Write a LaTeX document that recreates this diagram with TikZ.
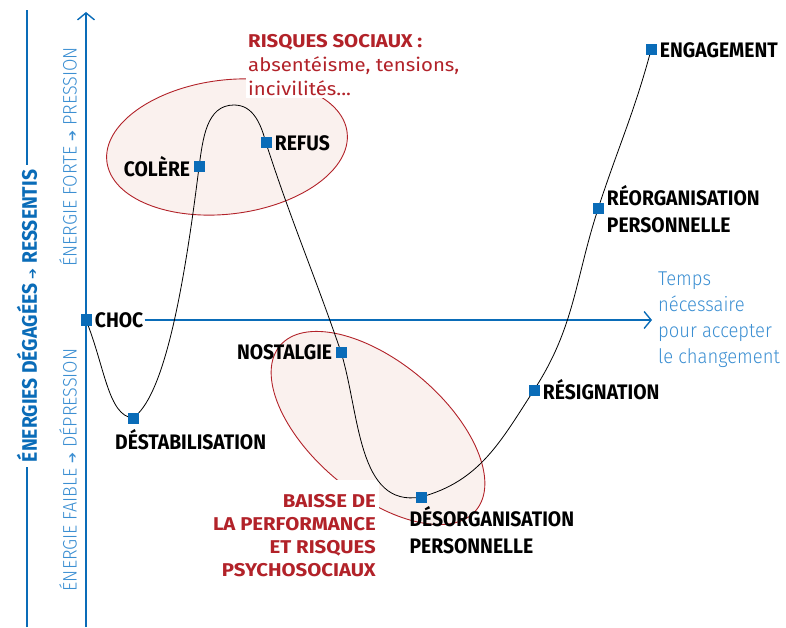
\documentclass[tikz,border=0pt]{standalone}
\usepackage{fontspec}
\usepackage{xcolor}
\usetikzlibrary{positioning,shapes.geometric,arrows.meta}
\setmainfont{Fira Sans}[FakeStretch=0.92]
\newfontfamily\lightfont{Fira Sans Light}[FakeStretch=0.92]
\newfontfamily\riskfont{Fira Sans}[FakeStretch=1.1]
\newfontfamily\arrowfont{DejaVu Sans}
\definecolor{chartblue}{HTML}{0A6CB8}
\definecolor{lightblue}{HTML}{3C8FD2}
\definecolor{riskred}{HTML}{B22229}
\definecolor{riskfill}{HTML}{FAF1EE}
\newcommand{\uparrowsym}{{\arrowfont\fontsize{13}{13}\selectfont ➔}}
\tikzset{
    stage-mark/.style = {rectangle, fill=chartblue, minimum size=11pt, inner sep=0pt},
    stage-label/.style = {font=\fontsize{21}{27}\selectfont\bfseries, inner sep=1pt, align=left},
    risk-zone/.style = {ellipse, draw=riskred, fill=riskfill, line width=0.9pt, inner sep=0pt},
    risk-text/.style = {text=riskred, fill=white, inner sep=2pt},
    axis-line/.style = {draw=chartblue, line width=1.4pt},
    axis-text/.style = {text=lightblue, font=\lightfont\fontsize{19.5}{22}\selectfont, inner sep=1pt},
}

\begin{document}
\begin{tikzpicture}[x=1pt, y=1pt]
\useasboundingbox (0,0) rectangle (786,627);

% zones de risque
\node[risk-zone, minimum width=242pt, minimum height=134pt, rotate=7] (social-zone) at (227,480) {};
\node[risk-zone, minimum width=256pt, minimum height=132pt, rotate=-40] (perf-zone) at (378,199) {};

\node[risk-text, anchor=north west, align=left, font=\riskfont\fontsize{18.5}{24}\selectfont] (social-risk) at (246,595)
    {\textbf{RISQUES SOCIAUX :}\\absentéisme, tensions,\\incivilités...};
\node[risk-text, anchor=north east, align=right, inner xsep=3pt, inner ysep=14pt, font=\riskfont\fontsize{18.5}{23}\selectfont\bfseries] (perf-risk) at (379,147)
    {BAISSE DE\\LA PERFORMANCE\\ET RISQUES\\PSYCHOSOCIAUX};

% axes
\coordinate (outer-top) at (27,617);
\coordinate (outer-bottom) at (27,0);
\draw[axis-line] (outer-bottom) -- (outer-top);
\node[fill=white, rotate=90, text=chartblue, inner xsep=5pt, font=\fontsize{21}{21}\selectfont\bfseries] (feeling-label) at (27,311)
    {ÉNERGIES DÉGAGÉES \uparrowsym{} RESSENTIS};

\coordinate (energy-bottom) at (86,0);
\coordinate (energy-top) at (86,615);
\draw[axis-line, -{Straight Barb[length=7pt, width=17pt]}] (energy-bottom) -- (energy-top);
\node[axis-text, rotate=90] (high-energy) at (68,470) {ÉNERGIE FORTE \uparrowsym{} PRESSION};
\node[axis-text, rotate=90] (low-energy) at (68,157) {ÉNERGIE FAIBLE \uparrowsym{} DÉPRESSION};

% étapes
\node[stage-mark] (choc) at (86,307) {};
\node[stage-mark] (destab) at (133,209) {};
\node[stage-mark] (colere) at (199,460) {};
\coordinate (peak) at (234,522);
\node[stage-mark] (refus) at (266,484) {};
\node[stage-mark] (nostalgie) at (341,275) {};
\node[stage-mark] (desorg) at (421,130) {};
\node[stage-mark] (resignation) at (534,237) {};
\node[stage-mark] (reorg) at (598,418) {};
\node[stage-mark] (engagement) at (651,577) {};

\node[stage-label, fill=white, right=2pt of choc] (choc-label) {CHOC};
\coordinate (time-tip) at (652,307);
\draw[axis-line, -{Straight Barb[length=7pt, width=17pt]}] (choc-label) -- (time-tip);
\node[axis-text, font=\lightfont\fontsize{20}{26}\selectfont, align=left, anchor=west] (time-text) at ([xshift=5pt]time-tip)
    {Temps\\nécessaire\\pour accepter\\le changement};

\draw[black, line width=0.8pt] (choc.center) .. controls +(-68:50) and +(175:25) .. (destab.center)
    .. controls +(35:35) and +(-97:140) .. (colere.center) to[out=82, in=180] (peak)
    to[out=0, in=105] (refus.center) to[out=-72, in=109] (nostalgie.center)
    to[out=-73, in=190] (desorg.center) to[out=15, in=-123] (resignation.center)
    to[out=57, in=-108] (reorg.center) to[out=72, in=-105] (engagement.center);

\foreach \stage in {choc, destab, colere, refus, nostalgie, desorg, resignation, reorg, engagement}
    \node[stage-mark] at (\stage) {};

\node[stage-label, anchor=north west] (destab-label) at ([xshift=-19pt, yshift=-5pt]destab.south) {DÉSTABILISATION};
\node[stage-label, left=2pt of colere] (colere-label) {COLÈRE};
\node[stage-label, right=2pt of refus] (refus-label) {REFUS};
\node[stage-label, left=2pt of nostalgie] (nostalgie-label) {NOSTALGIE};
\node[stage-label, anchor=north west] (desorg-label) at ([xshift=-7pt, yshift=-3pt]desorg.south west) {DÉSORGANISATION\\PERSONNELLE};
\node[stage-label, right=2pt of resignation] (resignation-label) {RÉSIGNATION};
\node[stage-label, right=2pt of reorg] (reorg-label) {RÉORGANISATION\\PERSONNELLE};
\node[stage-label, right=2pt of engagement] (engagement-label) {ENGAGEMENT};
\end{tikzpicture}
\end{document}
